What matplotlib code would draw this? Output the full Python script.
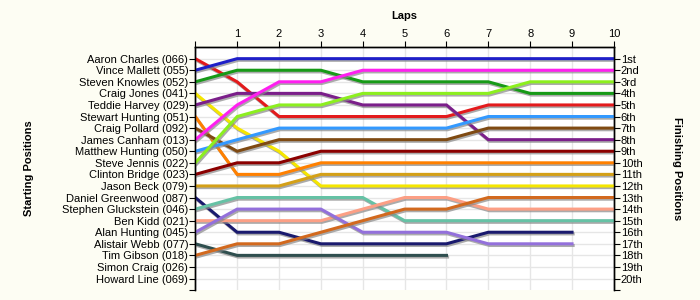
import matplotlib.pyplot as plt
import matplotlib.patheffects as pe

plt.rcParams['font.family'] = ['Liberation Sans', 'DejaVu Sans']

# Drivers in starting order
drivers = ['Aaron Charles (066)', 'Vince Mallett (055)', 'Steven Knowles (052)',
           'Craig Jones (041)', 'Teddie Harvey (029)', 'Stewart Hunting (051)',
           'Craig Pollard (092)', 'James Canham (013)', 'Matthew Hunting (050)',
           'Steve Jennis (022)', 'Clinton Bridge (023)', 'Jason Beck (079)',
           'Daniel Greenwood (087)', 'Stephen Gluckstein (046)', 'Ben Kidd (021)',
           'Alan Hunting (045)', 'Alistair Webb (077)', 'Tim Gibson (018)',
           'Simon Craig (026)', 'Howard Line (069)']

colors = ['#e31a1c', '#1f1fc8', '#179a17', '#f5e600', '#7b1f8a', '#ff8000',
          '#7f4a12', '#ff1ff0', '#3399ff', '#8cef1f', '#8b0000', '#d4a017',
          '#1a1a6e', '#66c2a5', '#fc9f85', '#9370db', '#2f4f4f', '#d2691e',
          None, None]

# Position of each driver from lap 0 (start) onwards
positions = [
    [1, 3, 6, 6, 6, 6, 6, 5, 5, 5, 5],
    [2, 1, 1, 1, 1, 1, 1, 1, 1, 1, 1],
    [3, 2, 2, 2, 3, 3, 3, 3, 4, 4, 4],
    [4, 7, 9, 12, 12, 12, 12, 12, 12, 12, 12],
    [5, 4, 4, 4, 5, 5, 5, 8, 8, 8, 8],
    [6, 11, 11, 10, 10, 10, 10, 10, 10, 10, 10],
    [7, 9, 8, 8, 8, 8, 8, 7, 7, 7, 7],
    [8, 5, 3, 3, 2, 2, 2, 2, 2, 2, 2],
    [9, 8, 7, 7, 7, 7, 7, 6, 6, 6, 6],
    [10, 6, 5, 5, 4, 4, 4, 4, 3, 3, 3],
    [11, 10, 10, 9, 9, 9, 9, 9, 9, 9, 9],
    [12, 12, 12, 11, 11, 11, 11, 11, 11, 11, 11],
    [13, 16, 16, 17, 17, 17, 17, 16, 16, 16],
    [14, 13, 13, 13, 13, 15, 15, 15, 15, 15, 15],
    [15, 15, 15, 15, 14, 13, 13, 14, 14, 14, 14],
    [16, 14, 14, 14, 16, 16, 16, 17, 17, 17],
    [17, 18, 18, 18, 18, 18, 18],
    [18, 17, 17, 16, 15, 14, 14, 13, 13, 13, 13],
    [],
    [],
]

laps = list(range(1, 11))
finish_labels = ['1st', '2nd', '3rd'] + [f'{i}th' for i in range(4, 21)]

fig = plt.figure(figsize=(7, 3), dpi=100, facecolor='#fdfdf3')
ax = fig.add_axes([0.279, 0.033, 0.598, 0.810])
ax.set_facecolor('white')

shadow = [pe.SimpleLineShadow(offset=(0.8, -1.2), shadow_color='#888888', alpha=0.7),
          pe.Normal()]
for pos, col in zip(positions, colors):
    if not pos:
        continue
    ax.plot(range(len(pos)), pos, color=col, linewidth=2.2,
            solid_joinstyle='miter', path_effects=shadow, zorder=3)

ax.set_xlim(0, 10)
ax.set_ylim(21, 0)

# Grid
for x in laps:
    ax.axvline(x, color='#e6e6e6', linewidth=1, zorder=1)
for y in range(1, 21):
    ax.axhline(y, color='#e6e6e6', linewidth=1, zorder=1)

# Laps on top
ax.xaxis.tick_top()
ax.set_xticks([0] + laps)
ax.set_xticklabels([''] + [str(l) for l in laps], fontsize=8)
ax.tick_params(axis='x', direction='out', length=4, pad=2)
ax.set_xlabel('Laps', fontsize=8, fontweight='bold', labelpad=7)
ax.xaxis.set_label_position('top')

# Starting positions on left
ax.set_yticks(list(range(1, 21)) + [21])
ax.set_yticklabels(drivers + [''], fontsize=8)
ax.tick_params(axis='y', direction='out', length=4, pad=1)
ax.set_ylabel('Starting Positions', fontsize=8, fontweight='bold', labelpad=20)

# Finishing positions on right
ax2 = ax.twinx()
ax2.set_ylim(21, 0)
ax2.set_yticks(list(range(1, 21)) + [21])
ax2.set_yticklabels(finish_labels + [''], fontsize=8)
ax2.tick_params(axis='y', direction='out', length=4, pad=1)
ax2.set_ylabel('Finishing Positions', fontsize=8, fontweight='bold',
               rotation=270, labelpad=28)

for a in (ax, ax2):
    a.spines['bottom'].set_visible(False)
    for s in a.spines.values():
        s.set_linewidth(1)

plt.savefig('out.png', dpi=100, facecolor=fig.get_facecolor())
